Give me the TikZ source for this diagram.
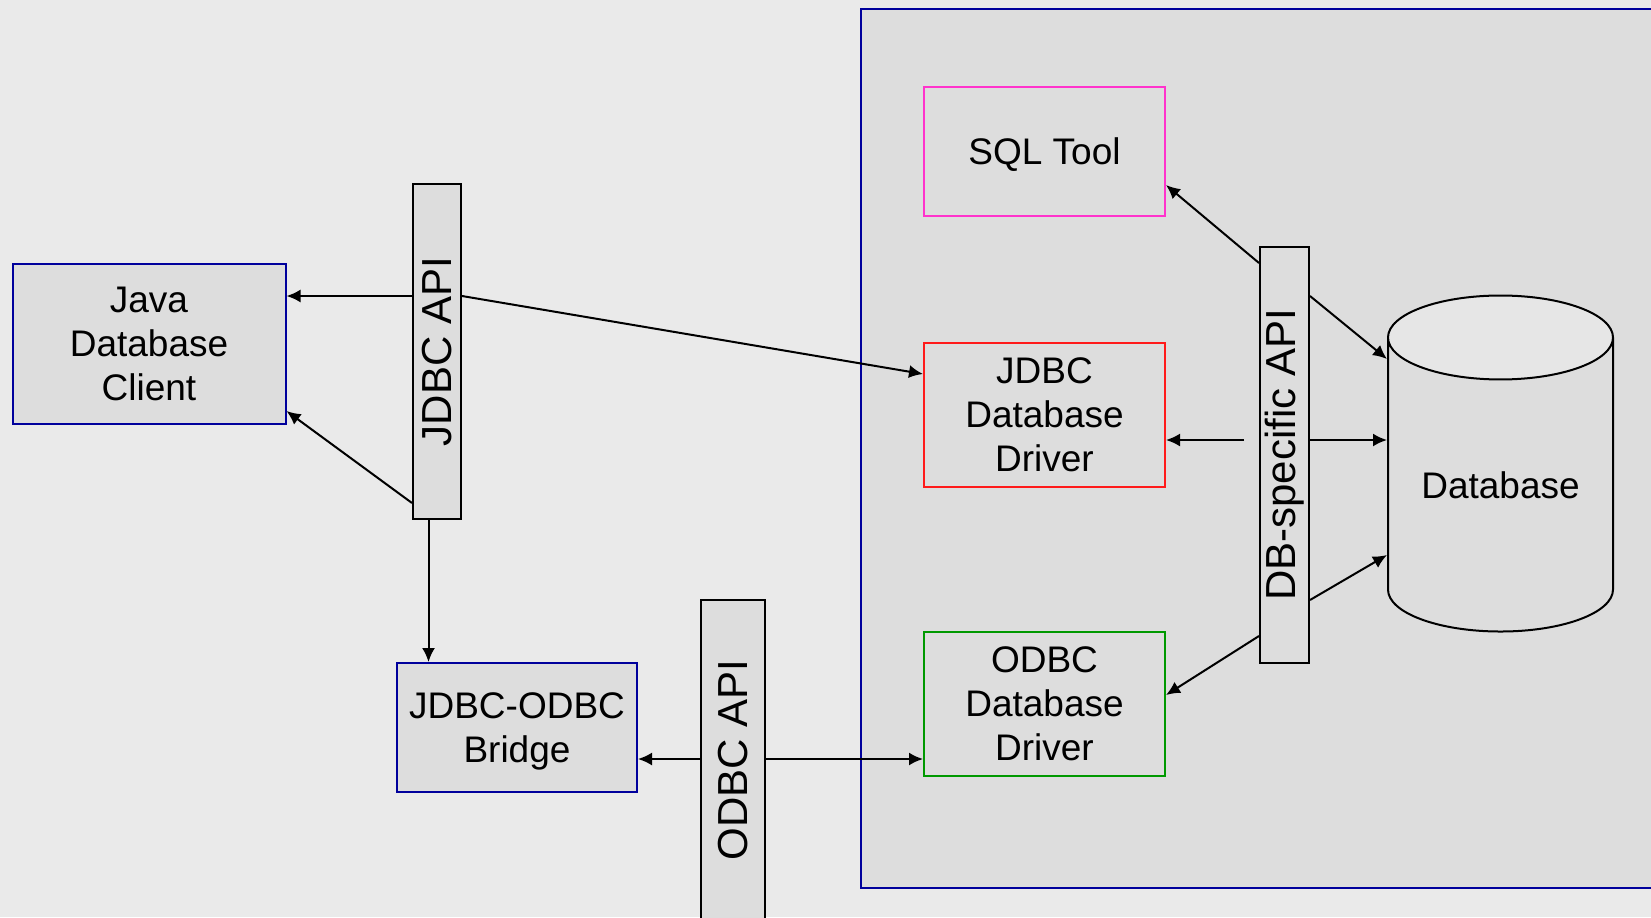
\documentclass[tikz,border=0pt]{standalone}
\usepackage{fontspec}
\setmainfont{Liberation Sans}
\usepackage{graphicx}
\usetikzlibrary{arrows.meta,shapes.geometric}

\definecolor{pagebg}{HTML}{EAEAEA}
\definecolor{boxfill}{HTML}{DDDDDD}
\definecolor{capfill}{HTML}{E6E6E6}
\definecolor{navy}{HTML}{00009C}
\definecolor{toolpink}{HTML}{FF33CC}
\definecolor{drvred}{HTML}{FF1A1A}
\definecolor{drvgreen}{HTML}{009900}

\newcommand{\boxfont}{\fontsize{18.5}{22}\selectfont}
\newcommand{\apifont}{\fontsize{21}{25}\selectfont}

\begin{document}
\begin{tikzpicture}[x=0.5pt,y=-0.5pt,line width=1pt,>={Latex[length=7pt,width=6.5pt]},
    comp/.style={draw,fill=boxfill,align=center,inner sep=0pt,font=\boxfont},
    apibar/.style={draw=black,fill=boxfill,inner sep=0pt,font=\apifont},
    link/.style={->,black}]
  \useasboundingbox[fill=pagebg] (0,0) rectangle (1651,917);

  % server side
  \node[draw=navy,fill=boxfill,minimum width=399.5pt,minimum height=439.5pt] (server) at (1260.5,448.5) {};

  \node[comp,draw=navy,minimum width=136.5pt,minimum height=80pt] (client) at (149,344) {Java\\Database\\Client};
  \node[apibar,minimum width=24pt,minimum height=167.5pt] (jdbcapi) at (437,351.5) {\rotatebox{90}{JDBC API}};
  \node[comp,draw=navy,minimum width=120pt,minimum height=64.5pt] (bridge) at (517,727.5) {JDBC-ODBC\\\smash{Bridge}};
  \node[apibar,minimum width=32pt,minimum height=160pt] (odbcapi) at (733,760) {\rotatebox{90}{ODBC API}};

  \node[comp,draw=toolpink,minimum width=120.5pt,minimum height=64.5pt,text depth=0pt] (sqltool) at (1044.5,151.5) {SQL Tool};
  \node[comp,draw=drvred,minimum width=120.5pt,minimum height=72pt] (jdbcdrv) at (1044.5,415) {JDBC\\Database\\Driver};
  \node[comp,draw=drvgreen,minimum width=120.5pt,minimum height=72pt] (odbcdrv) at (1044.5,704) {ODBC\\Database\\Driver};
  \node[apibar,minimum width=24.5pt,minimum height=208pt] (dbapi) at (1284.5,455) {\rotatebox{90}{DB-specific API}};
  \node[cylinder,shape border rotate=90,aspect=0.53,draw,cylinder uses custom fill,
        cylinder body fill=boxfill,cylinder end fill=capfill,
        minimum width=112.5pt,minimum height=168pt,inner sep=0pt,font=\boxfont] (database) at (1500.5,485) {Database};

  \path[link]
    (jdbcapi.west |- 0,296) edge (client.east |- 0,296)
    (jdbcapi.west |- 0,503) edge (client.east |- 0,411)
    (jdbcapi.east |- 0,296) edge (jdbcdrv.west |- 0,374)
    (jdbcapi.south -| 428.5,0) edge (bridge.north -| 428.5,0)
    (odbcapi.west |- 0,759) edge (bridge.east |- 0,759)
    (odbcapi.east |- 0,759) edge (odbcdrv.west |- 0,759)
    (dbapi.west |- 0,263) edge (sqltool.east |- 0,185)
    (dbapi.east |- 0,296) edge (database.west |- 0,359)
    ([xshift=-7.5pt]dbapi.west |- 0,440) edge (jdbcdrv.east |- 0,440)
    (dbapi.east |- 0,440) edge (database.west |- 0,440)
    (dbapi.east |- 0,600) edge (database.west |- 0,555)
    (dbapi.west |- 0,636) edge (odbcdrv.east |- 0,695);
\end{tikzpicture}
\end{document}
